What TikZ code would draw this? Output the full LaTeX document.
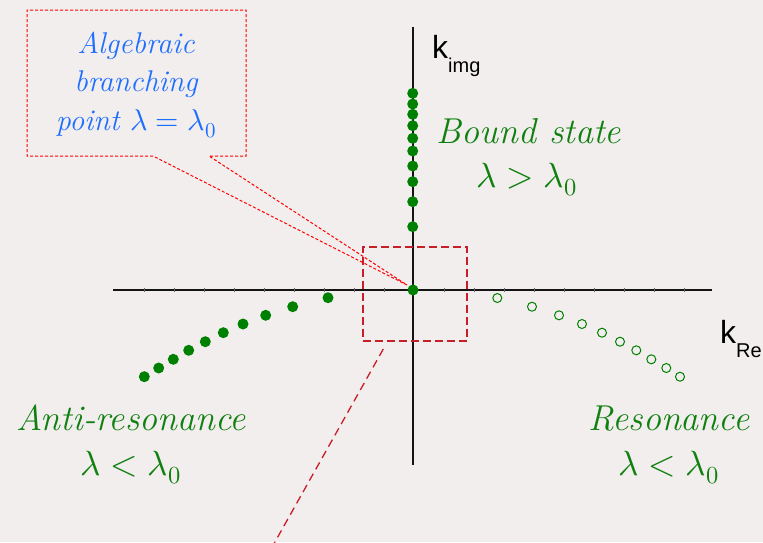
\documentclass[tikz,border=0pt]{standalone}
\usepackage{unicode-math}
\newfontfamily\arial{Liberation Sans}
\definecolor{bgc}{RGB}{242,238,237}
\definecolor{dgreen}{RGB}{0,128,0}
\definecolor{tgreen}{RGB}{16,128,16}
\definecolor{cblue}{RGB}{30,110,255}
\definecolor{boxred}{RGB}{200,30,40}
\tikzset{
  gdot/.style={circle, fill=dgreen, inner sep=0pt, minimum size=11pt},
  odot/.style={circle, draw=dgreen, fill=bgc, line width=1pt, inner sep=0pt, minimum size=9pt},
  axis/.style={line width=2.2pt, draw=black!92},
  tickmark/.style={line width=0.7pt, draw=black!60},
  greentext/.style={text=tgreen, inner sep=0pt, anchor=base, font=\itshape\fontsize{36}{42}\selectfont},
  greenmath/.style={text=tgreen, inner sep=0pt, anchor=base, font=\fontsize{35}{42}\selectfont},
  bluetext/.style={text=cblue, inner sep=0pt, anchor=base, font=\itshape\fontsize{30}{36}\selectfont},
  calloutline/.style={draw=red, line width=1pt, dash pattern=on 3pt off 2pt},
  zoombox/.style={draw=boxred, line width=1.3pt, dash pattern=on 8pt off 4pt},
  zoomline/.style={draw=boxred, line width=1.3pt, dash pattern=on 8pt off 5pt},
  klabel/.style={inner sep=0pt, anchor=base west, font=\arial\fontsize{32}{32}\selectfont},
}
\begin{document}
\begin{tikzpicture}[x=1pt, y=-1pt]
  \fill[bgc] (0,0) rectangle (763,542);
  \useasboundingbox (0,0) rectangle (763,542);

  % axes
  \coordinate (hL) at (113,290);
  \coordinate (hR) at (712,290);
  \coordinate (vT) at (413,27);
  \coordinate (vB) at (413,465);
  \draw[axis] (hL) -- (hR);
  \foreach \i in {0,...,18} {
    \draw[tickmark] ({144+30*\i},288) -- ({144+30*\i},292);
  }
  \draw[axis] (vT) -- (vB);

  % zoom box and line
  \node[zoombox, minimum width=104pt, minimum height=94pt, inner sep=0pt] (zoom) at (415,294) {};
  \coordinate (zs) at (383.3,349);
  \coordinate (ze) at (271,549);
  \draw[zoomline] (zs) -- (ze);

  % callout
  \coordinate (c1) at (27,10);
  \coordinate (c2) at (246,10);
  \coordinate (c3) at (246,156);
  \coordinate (c4) at (209,156);
  \coordinate (tip) at (407,285);
  \coordinate (c5) at (153,156);
  \coordinate (c6) at (27,156);
  \draw[calloutline] (c5) -- (c6) -- (c1) -- (c2) -- (c3) -- (c4) -- (tip) -- cycle;
  \node[bluetext] (t1) at (136,53) {Algebraic};
  \node[bluetext] (t2) at (136,91) {branching};
  \node[bluetext] (t3) at (136,130) {point $\lambda=\lambda_0$};

  % bound state dots
  \foreach \y [count=\n] in {93.3,104,114.3,125.7,138.3,151,166,181.7,201.7,226.7} {
    \node[gdot] (b\n) at (412.7,\y) {};
  }
  % origin dot
  \node[gdot] (origin) at (413,290) {};

  % anti-resonance dots
  \foreach \x/\y [count=\n] in {144.3/376.7,158.7/368,173.3/359.3,188.7/350.3,205.3/341.7,223.3/332.7,243/324,265.7/315.3,292.7/306.7,328/297.7} {
    \node[gdot] (a\n) at (\x,\y) {};
  }
  % resonance dots
  \foreach \x/\y [count=\n] in {497.3/298,532/306.7,559/315.3,582/324,602/332.7,620/341.7,636.3/350.3,651.3/359.3,666.3/368,680/376.7} {
    \node[odot] (r\n) at (\x,\y) {};
  }

  % axis labels
  \node[klabel] (kimg) at (432,58) {k\raisebox{-14pt}{\fontsize{20}{20}\selectfont img}};
  \node[klabel] (kre) at (720,343) {k\raisebox{-14pt}{\fontsize{20}{20}\selectfont Re}};

  % green labels
  \node[greentext] (bound) at (529,143) {Bound state};
  \node[greenmath] (boundm) at (527,187) {$\lambda>\lambda_0$};
  \node[greentext] (anti) at (131,430) {Anti-resonance};
  \node[greenmath] (antim) at (131,475) {$\lambda<\lambda_0$};
  \node[greentext] (res) at (669,430) {Resonance};
  \node[greenmath] (resm) at (669,475) {$\lambda<\lambda_0$};
\end{tikzpicture}
\end{document}
